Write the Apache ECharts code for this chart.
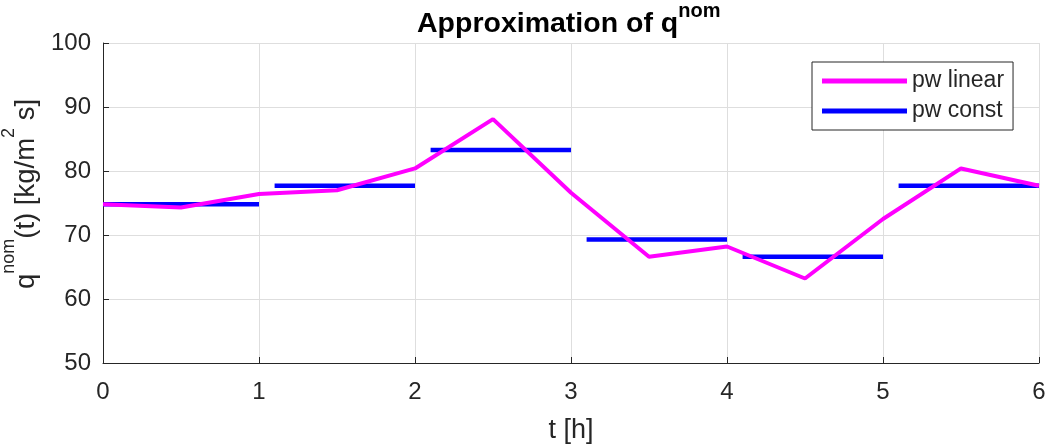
<!DOCTYPE html>
<html>
<head>
<meta charset="utf-8">
<script src="https://cdn.jsdelivr.net/npm/echarts@6/dist/echarts.min.js"></script>
<style>
  html, body { margin: 0; padding: 0; background: #fff; }
  #chart { width: 1049px; height: 447px; }
</style>
</head>
<body>
<div id="chart"></div>
<script>
// Piecewise-linear profile: sample times [h] and values [kg/m^2 s]
const linearTimes = [0, 0.5, 1, 1.5, 2, 2.5, 3, 3.5, 4, 4.5, 5, 5.5, 6];
const linearValues = [74.8, 74.3, 76.4, 77.0, 80.4, 88.1, 76.6, 66.6, 68.2, 63.2, 72.5, 80.4, 77.7];

// Piecewise-constant profile: one level per hour interval
const constStarts = [0, 1.1, 2.1, 3.1, 4.1, 5.1];
const constEnds = [1, 2, 3, 4, 5, 6];
const constValues = [74.8, 77.7, 83.3, 69.3, 66.6, 77.7];

const xTicks = { min: 0, max: 6, interval: 1 };
const yTicks = { min: 50, max: 100, interval: 10 };

const FONT = '"Liberation Sans", Arial, Helvetica, sans-serif';
const AXIS_COLOR = '#262626';
const GRID_COLOR = '#dedede';

const linearData = linearTimes.map((t, i) => [t, linearValues[i]]);
const constData = [];
constValues.forEach((v, i) => {
  constData.push([constStarts[i], v], [constEnds[i], v]);
  if (i < constValues.length - 1) constData.push([constEnds[i], '-']);
});

const chart = echarts.init(document.getElementById('chart'), null, { renderer: 'canvas' });

const axisCommon = {
  type: 'value',
  axisLine: { show: true, onZero: false, lineStyle: { color: AXIS_COLOR, width: 1 } },
  axisTick: { show: true, inside: true, length: 6, lineStyle: { color: AXIS_COLOR } },
  splitLine: { show: true, lineStyle: { color: GRID_COLOR, width: 1 } },
  axisLabel: { fontFamily: FONT, fontSize: 24, color: AXIS_COLOR },
  nameTextStyle: { fontFamily: FONT, fontSize: 27, color: AXIS_COLOR }
};

chart.setOption({
  animation: false,
  backgroundColor: '#fff',
  title: {
    text: '{b|Approximation of q}{s|nom}',
    left: 412,
    top: -4,
    textStyle: {
      rich: {
        b: { fontFamily: FONT, fontSize: 28.5, fontWeight: 'bold', color: '#000', lineHeight: 38, verticalAlign: 'bottom' },
        s: { fontFamily: FONT, fontSize: 20, fontWeight: 'bold', color: '#000', lineHeight: 20, verticalAlign: 'top' }
      }
    }
  },
  grid: { left: 103, right: 10, top: 43, bottom: 84, containLabel: false, outerBoundsMode: 'none' },
  legend: {
    orient: 'vertical',
    left: 812,
    top: 62,
    padding: [6, 9, 6, 10],
    itemGap: 4,
    itemWidth: 85,
    itemHeight: 5,
    icon: 'rect',
    backgroundColor: '#fff',
    borderColor: AXIS_COLOR,
    borderWidth: 1,
    borderRadius: 0,
    textStyle: { fontFamily: FONT, fontSize: 23, color: AXIS_COLOR, lineHeight: 26 },
    data: ['pw linear', 'pw const']
  },
  xAxis: Object.assign({}, axisCommon, {
    min: xTicks.min, max: xTicks.max, interval: xTicks.interval,
    axisLabel: Object.assign({}, axisCommon.axisLabel, { margin: 17 }),
    name: 't [h]',
    nameLocation: 'middle',
    nameGap: 54
  }),
  yAxis: Object.assign({}, axisCommon, {
    min: yTicks.min, max: yTicks.max, interval: yTicks.interval,
    axisLabel: Object.assign({}, axisCommon.axisLabel, { margin: 12 }),
    name: '{b|q}{s|nom}{b|(t) [kg/m}{s|2}{b| s]}',
    nameLocation: 'middle',
    nameRotate: 90,
    nameGap: 56,
    nameTextStyle: {
      padding: [0, 0, 0, 18],
      rich: {
        b: { fontFamily: FONT, fontSize: 27.5, color: AXIS_COLOR, lineHeight: 40, verticalAlign: 'bottom' },
        s: { fontFamily: FONT, fontSize: 18, color: AXIS_COLOR, lineHeight: 18, verticalAlign: 'top' }
      }
    }
  }),
  series: [
    {
      name: 'pw linear',
      type: 'line',
      data: linearData,
      symbol: 'none',
      z: 3,
      itemStyle: { color: '#ff00ff' },
      lineStyle: { color: '#ff00ff', width: 4 }
    },
    {
      name: 'pw const',
      type: 'line',
      data: constData,
      symbol: 'none',
      connectNulls: false,
      z: 2,
      itemStyle: { color: '#0000ff' },
      lineStyle: { color: '#0000ff', width: 4.5 }
    }
  ]
});
</script>
</body>
</html>
